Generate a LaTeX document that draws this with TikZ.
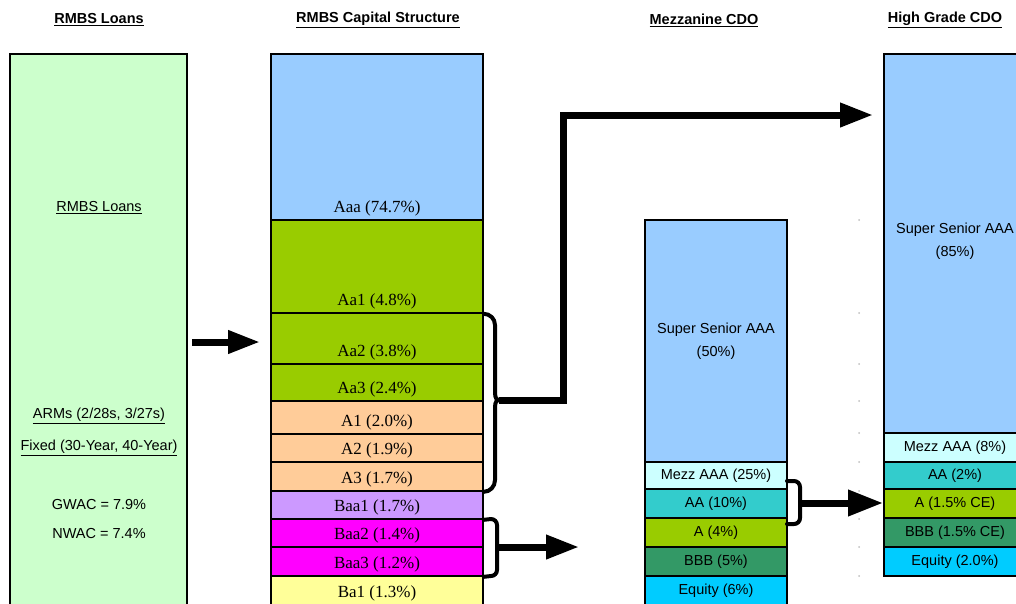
\documentclass[tikz,border=0pt]{standalone}
\usepackage{fontspec}
\setmainfont{Liberation Sans}
\newfontfamily\trfont{Liberation Serif}
\usepackage{xcolor}
\usetikzlibrary{arrows.meta,fit}

\definecolor{loangreen}{HTML}{CCFFCC}
\definecolor{seniorblue}{HTML}{99CCFF}
\definecolor{aagreen}{HTML}{99CC00}
\definecolor{apeach}{HTML}{FFCC99}
\definecolor{baalilac}{HTML}{CC99FF}
\definecolor{baamagenta}{HTML}{FF00FF}
\definecolor{bayellow}{HTML}{FFFF99}
\definecolor{mezzcyan}{HTML}{CCFFFF}
\definecolor{aateal}{HTML}{33CCCC}
\definecolor{bbbgreen}{HTML}{339966}
\definecolor{equityblue}{HTML}{00CCFF}

\begin{document}
\begin{tikzpicture}[x=1pt, y=-1pt,
  cell/.style={draw, line width=1.6pt, inner sep=0pt},
  hdr/.style={font=\fontsize{14.5}{16}\selectfont\bfseries},
  sans/.style={font=\fontsize{14.5}{23}\selectfont, align=center},
  serif/.style={font=\trfont\fontsize{17}{19}\selectfont},
  brace/.style={line width=4pt, line cap=round, line join=round},
  fat/.style={line width=7pt, line join=miter},
  tip/.style={-{Triangle[length=33pt, width=23pt]}}]
  \useasboundingbox (0,0) rectangle (1016,603);
  \clip (0,0) rectangle (1016,603);
  % Headers
  \node[hdr] (hloans) at (99,20) {\underline{RMBS Loans}};
  \node[hdr] (hcap) at (378,20) {\underline{RMBS Capital Structure}};
  \node[hdr] (hmezz) at (704,20) {\underline{Mezzanine CDO}};
  \node[hdr] (hhg) at (945,20) {\underline{High Grade CDO}};
  % Loan pool
  \node[cell, fill=loangreen, fit={(10,54) (187,610)}] (loans) {};
  \node[sans] (lname) at (99,208) {\underline{RMBS Loans}};
  \node[sans] (larm) at (99,416) {\underline{ARMs (2/28s, 3/27s)}};
  \node[sans] (lfix) at (99,448) {\underline{Fixed (30-Year, 40-Year)}};
  \node[sans] (lgwac) at (99,504) {GWAC = 7.9\%};
  \node[sans] (lnwac) at (99,533) {NWAC = 7.4\%};
  % RMBS tranches
  \foreach \n/\ya/\yb/\c/\t in {aaa/54/220/seniorblue/{Aaa (74.7\%)},
      aaone/220/313/aagreen/{Aa1 (4.8\%)}, aatwo/313/364/aagreen/{Aa2 (3.8\%)},
      aathree/364/401/aagreen/{Aa3 (2.4\%)}, aone/401/434/apeach/{A1 (2.0\%)},
      atwo/434/462/apeach/{A2 (1.9\%)}, athree/462/491/apeach/{A3 (1.7\%)},
      baaone/491/519/baalilac/{Baa1 (1.7\%)}, baatwo/519/547/baamagenta/{Baa2 (1.4\%)},
      baathree/547/576/baamagenta/{Baa3 (1.2\%)}, baone/576/605/bayellow/{Ba1 (1.3\%)}} {
    \node[cell, fill=\c, fit={(271,\ya) (483,\yb)}] (\n) {};
    \node[serif, anchor=base] (\n txt) at ([yshift=8pt]\n.south) {\t};
  }
  % Mezzanine CDO tranches
  \foreach \n/\ya/\yb/\c/\t in {mzss/220/462/seniorblue/{Super Senior AAA\\(50\%)},
      mzaaa/462/489/mezzcyan/{Mezz AAA (25\%)}, mzaa/489/518/aateal/{AA (10\%)},
      mza/518/547/aagreen/{A (4\%)}, mzbbb/547/576/bbbgreen/{BBB (5\%)},
      mzeq/576/605/equityblue/{Equity (6\%)}} {
    \node[cell, fill=\c, fit={(645,\ya) (787,\yb)}] (\n) {};
    \node[sans] (\n txt) at (\n.center) {\t};
  }
  % High grade CDO tranches
  \foreach \n/\ya/\yb/\c/\t in {hgss/54/433/seniorblue/{},
      hgaaa/433/462/mezzcyan/{Mezz AAA (8\%)}, hgaa/462/489/aateal/{AA (2\%)},
      hga/489/518/aagreen/{A (1.5\% CE)}, hgbbb/518/547/bbbgreen/{BBB (1.5\% CE)},
      hgeq/547/576/equityblue/{Equity (2.0\%)}} {
    \node[cell, fill=\c, fit={(884,\ya) (1026,\yb)}] (\n) {};
    \node[sans] (\n txt) at (\n.center) {\t};
  }
  \node[sans] (hgsslabel) at (955,241) {Super Senior AAA\\(85\%)};
  % Faint grid dots
  \foreach \y in {220,313,364,401,433,462,491,519,547,576}
    \fill[gray!50] (859,\y) circle (1pt);
  % Connector points
  \coordinate (loanout) at (192,342);
  \coordinate (capin) at (260,342);
  \coordinate (cuspA) at (499,400);
  \coordinate (bendA) at (563,115);
  \coordinate (tipHG) at (873,115);
  \coordinate (cuspB) at (498,547);
  \coordinate (tipB) at (579,547);
  \coordinate (cuspC) at (801,503);
  \coordinate (tipC) at (883,503);
  % Loans to RMBS
  \draw[fat, -{Triangle[length=32pt, width=22pt]}] (loanout) -- (capin);
  % Aa2-A3 into high grade CDO
  \draw[brace] (aaone.south east) to[out=0, in=90] (495,325) -- (495,390)
    to[out=-90, in=180] (cuspA) to[out=180, in=90] (495,410) -- (495,480)
    to[out=-90, in=0] (athree.south east);
  \draw[fat, tip] (cuspA) -| (bendA) -- (tipHG);
  % Baa2-Baa3 into mezzanine CDO
  \draw[brace] (baaone.south east) -- (491,519) to[out=0, in=90] (497,525)
    -- (497,570) to[out=-90, in=0] (491,576) -- (baathree.south east);
  \draw[fat, tip] (cuspB) -- (tipB);
  % AA into high grade CDO
  \draw[brace] (787,481) -- (794,481) to[out=0, in=90] (800,487) -- (800,518)
    to[out=-90, in=0] (794,524) -- (787,524);
  \draw[fat, -{Triangle[length=35pt, width=25pt]}] (cuspC) -- (tipC);
\end{tikzpicture}
\end{document}
